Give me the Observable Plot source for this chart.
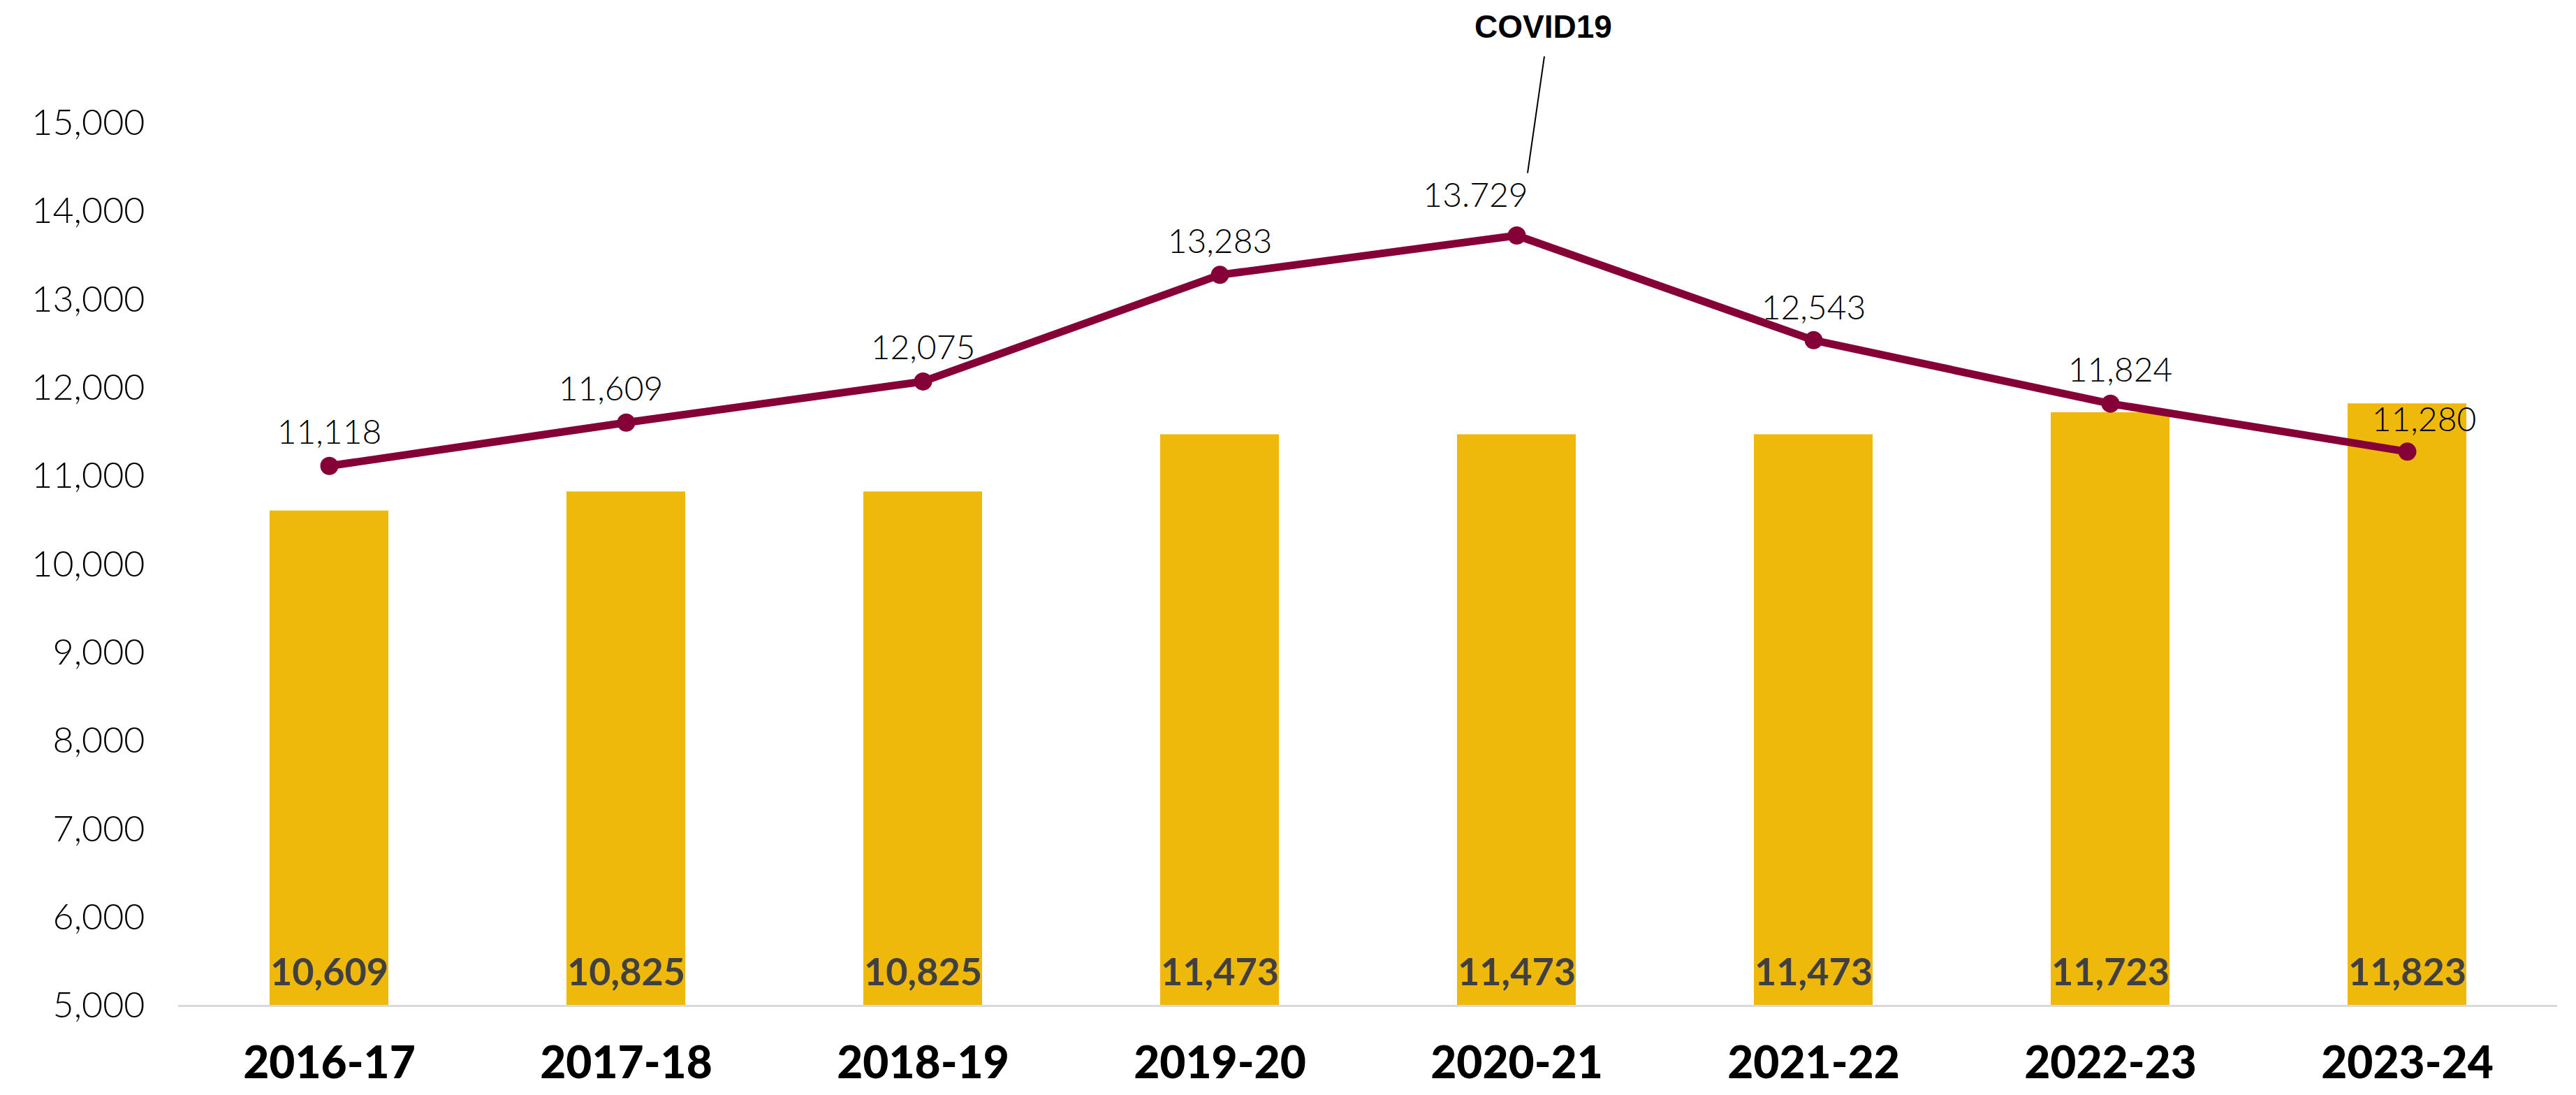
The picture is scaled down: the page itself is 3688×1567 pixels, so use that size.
<!DOCTYPE html>
<html><head><meta charset="utf-8">
<script src="https://cdn.jsdelivr.net/npm/d3@7"></script>
<script src="https://cdn.jsdelivr.net/npm/@observablehq/plot@0.6"></script>
<style>
html,body{margin:0;padding:0;background:#fff;}
#chart svg{display:block;}
</style>
</head><body><div id="chart"></div>
<script>
// ---- data ----
const years = ["2016-17","2017-18","2018-19","2019-20","2020-21","2021-22","2022-23","2023-24"];
const barValues = [10609,10825,10825,11473,11473,11473,11723,11823];
const lineValues = [11118,11609,12075,13283,13729,12543,11824,11280];
const lineLabels = ["11,118","11,609","12,075","13,283","13.729","12,543","11,824","11,280"];
const yTicks = [5000,6000,7000,8000,9000,10000,11000,12000,13000,14000,15000];
const yMin = 5000, yMax = 15000;
const annotationText = ["COVID19"];
const annotationYear = ["2020-21"];

// ---- style (offsets in pixels) ----
const labelDx = [0,-22,0,0,-59,0,14,24];
const labelDy = [-47,-47,-47,-47,-56,-45,-47,-45];
const barColor = "#EFB90B";
const lineColor = "#860038";

const bars = years.map((y,i)=>({year:y, value:barValues[i]}));
const pts = years.map((y,i)=>({year:y, value:lineValues[i], label:lineLabels[i]}));
const fmt = d3.format(",");

const labelMarks = pts.map((d,i)=>Plot.text([d], {
  x:"year", y:"value", text:"label", dx:labelDx[i], dy:labelDy[i],
  fontSize:48, fontWeight:300, fill:"#000", fontFamily:"Lato"
}));

// leader line for annotation, computed from the plot's scales
function leader(index, scales) {
  const sx = scales.x, sy = scales.y;
  const bw = typeof sx.bandwidth === "function" ? sx.bandwidth() : 0;
  const i = years.indexOf(annotationYear[0]);
  const cx = sx(annotationYear[0]) + bw/2;
  const cy = sy(lineValues[i]);
  const g = d3.create("svg:g");
  g.append("line")
    .attr("x1", cx+16).attr("y1", cy-89)
    .attr("x2", cx+40).attr("y2", cy-256)
    .attr("stroke","#000").attr("stroke-width",2);
  return g.node();
}

const chart = Plot.plot({
  width: 3688,
  height: 1567,
  marginLeft: 255,
  marginRight: 27,
  marginTop: 176,
  marginBottom: 128,
  style: {fontFamily:"Lato", background:"#fff", overflow:"visible"},
  x: {domain: years, paddingInner:0.6, paddingOuter:0.3, label:null},
  y: {domain:[yMin,yMax], label:null},
  marks: [
    Plot.barY(bars, {x:"year", y1:()=>yMin, y2:"value", fill:barColor}),
    Plot.ruleY([yMin], {stroke:"#d9d9d9", strokeWidth:3}),
    Plot.axisY(yTicks, {tickSize:0, tickPadding:48, tickFormat:fmt, fontSize:52, fontWeight:300, fill:"#000", label:null}),
    Plot.axisX({tickSize:0, tickPadding:58, fontSize:64, fontWeight:900, fill:"#000", label:null}),
    Plot.text(bars, {x:"year", y:()=>yMin, text:d=>fmt(d.value), dy:-47, fontSize:54, fontWeight:700, fill:"#404040"}),
    Plot.line(pts, {x:"year", y:"value", stroke:lineColor, strokeWidth:11}),
    Plot.dot(pts, {x:"year", y:"value", r:13, fill:lineColor}),
    ...labelMarks,
    Plot.text(annotationYear.map((y,i)=>({year:y, value:lineValues[years.indexOf(y)], t:annotationText[i]})),
      {x:"year", y:"value", text:"t", dx:38, dy:-298, fontSize:46, fontWeight:700, fontFamily:"Liberation Sans, Arial, sans-serif", fill:"#000"}),
    leader
  ]
});
document.getElementById("chart").appendChild(chart);
</script>
</body></html>
